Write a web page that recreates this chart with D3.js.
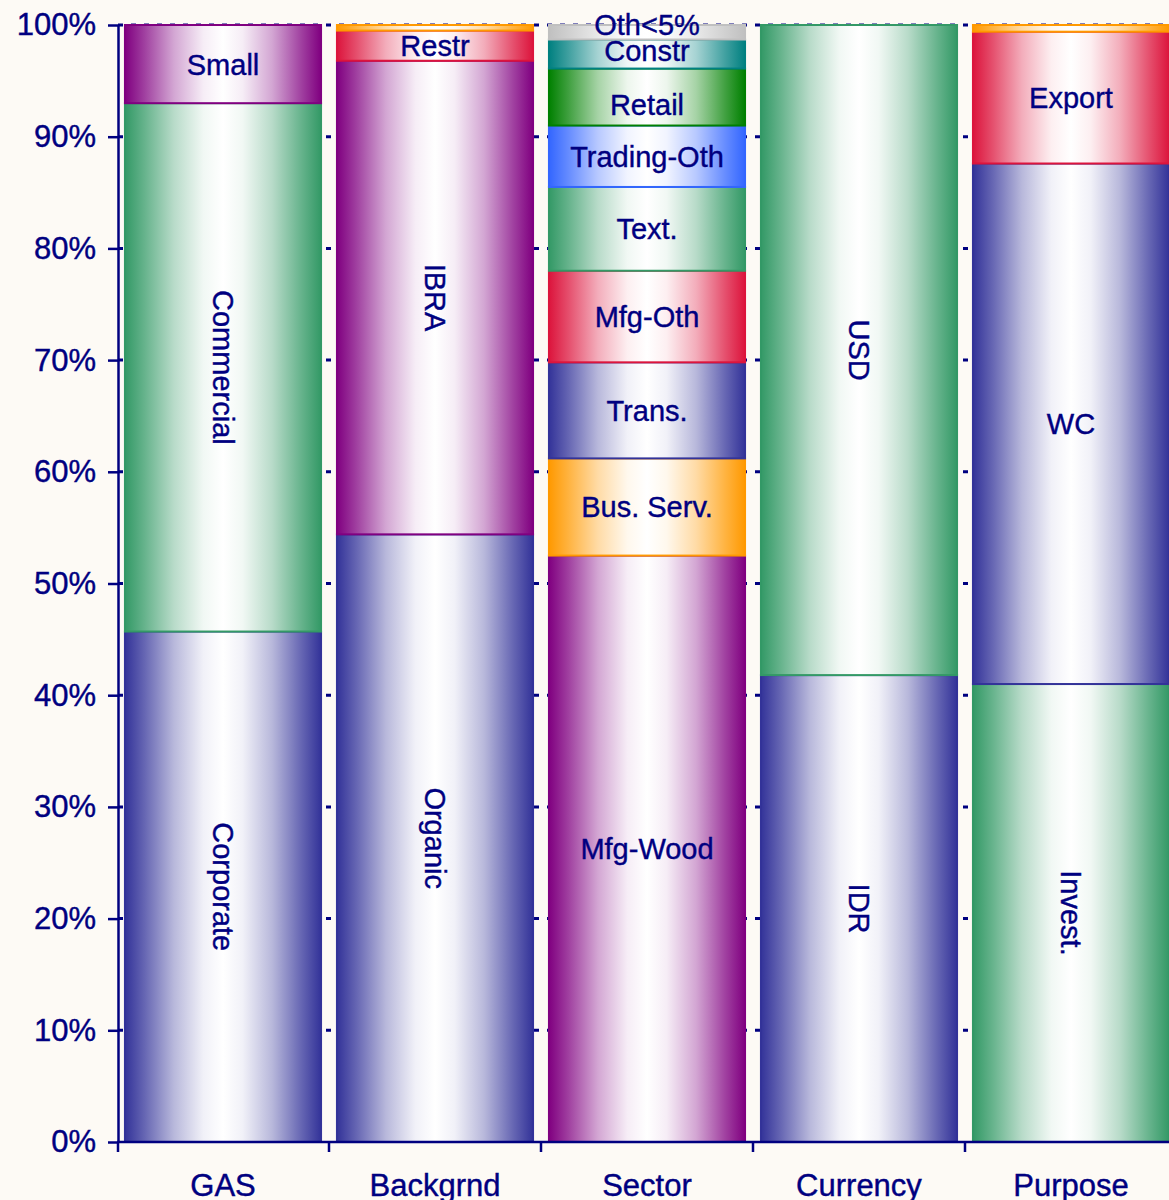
<!DOCTYPE html>
<html>
<head>
<meta charset="utf-8">
<script src="https://cdn.jsdelivr.net/npm/d3@7"></script>
<style>
  html, body { margin: 0; padding: 0; background: #fdfaf5; }
  svg { display: block; }
  text { font-family: "Liberation Sans", Arial, sans-serif; }
</style>
</head>
<body>
<script>
// Portfolio composition, each breakdown stacked to 100%
const categories = ["GAS", "Backgrnd", "Sector", "Currency", "Purpose"];

const gasLabels = ["Corporate", "Commercial", "Small"];
const gasValues = [45.7, 47.3, 7.0];

const backgrndLabels = ["Organic", "IBRA", "Restr", ""];
const backgrndValues = [54.4, 42.4, 2.7, 0.5];

const sectorLabels = ["Mfg-Wood", "Bus. Serv.", "Trans.", "Mfg-Oth", "Text.", "Trading-Oth", "Retail", "Constr", "Oth<5%"];
const sectorValues = [52.5, 8.7, 8.6, 8.2, 7.5, 5.5, 5.1, 2.6, 1.3];

const currencyLabels = ["IDR", "USD"];
const currencyValues = [41.8, 58.2];

const purposeLabels = ["Invest.", "WC", "Export", ""];
const purposeValues = [41.0, 46.6, 11.8, 0.6];

const yTickValues = [0, 10, 20, 30, 40, 50, 60, 70, 80, 90, 100];

const groups = [
  { cat: "GAS", labels: gasLabels, values: gasValues, colors: ["#333399", "#339966", "#800080"] },
  { cat: "Backgrnd", labels: backgrndLabels, values: backgrndValues, colors: ["#333399", "#800080", "#DC143C", "#FF9900"] },
  { cat: "Sector", labels: sectorLabels, values: sectorValues,
    colors: ["#800080", "#FF9900", "#333399", "#DC143C", "#339966", "#3366FF", "#008000", "#008080", "#C0C0C0"] },
  { cat: "Currency", labels: currencyLabels, values: currencyValues, colors: ["#333399", "#339966"] },
  { cat: "Purpose", labels: purposeLabels, values: purposeValues, colors: ["#339966", "#333399", "#DC143C", "#FF9900"] }
];

// labels that run vertically inside tall segments
const verticalLabels = new Set(["Corporate", "Commercial", "Organic", "IBRA", "IDR", "USD", "Invest."]);
// small vertical nudges for crowded labels
const labelNudge = { "Oth<5%": -8, "Constr": -3, "Retail": 8 };

const W = 1169, H = 1200;
const navy = "#000080";
const svg = d3.select("body").append("svg").attr("width", W).attr("height", H);

svg.append("rect").attr("width", W).attr("height", H).attr("fill", "#fdfaf5");

const y = d3.scaleLinear().domain([0, 100]).range([1142, 25]);
const x = d3.scaleBand().domain(categories).range([117, 1177])
  .paddingInner(0.075).paddingOuter(0.0375);

// horizontal shading: solid edge, white centre
const defs = svg.append("defs");
const allColors = Array.from(new Set(groups.flatMap(g => g.colors)));
const gradId = c => "g" + c.replace("#", "");
allColors.forEach(c => {
  const lg = defs.append("linearGradient").attr("id", gradId(c))
    .attr("x1", 0).attr("x2", 1).attr("y1", 0).attr("y2", 0);
  const mix = d3.interpolateRgb(c, "#ffffff");
  [[0, 0], [0.1, 0.25], [0.25, 0.65], [0.4, 0.93], [0.5, 1], [0.6, 0.93], [0.75, 0.65], [0.9, 0.25], [1, 0]]
    .forEach(([o, t]) => lg.append("stop").attr("offset", o).attr("stop-color", mix(t)));
});

// dotted gridlines behind the bars
svg.append("g").selectAll("line").data(yTickValues.filter(d => d > 0)).join("line")
  .attr("x1", 118).attr("x2", W)
  .attr("y1", d => y(d)).attr("y2", d => y(d))
  .attr("stroke", navy).attr("stroke-width", 3).attr("stroke-dasharray", "5,8");

// stacked segments
const segs = [];
groups.forEach(g => {
  let acc = 0;
  g.values.forEach((v, i) => {
    segs.push({ cat: g.cat, label: g.labels[i], color: g.colors[i], y0: acc, y1: acc + v });
    acc += v;
  });
});

svg.append("g").selectAll("rect").data(segs).join("rect")
  .attr("x", d => x(d.cat))
  .attr("width", x.bandwidth())
  .attr("y", d => y(d.y1))
  .attr("height", d => y(d.y0) - y(d.y1))
  .attr("fill", d => `url(#${gradId(d.color)})`)
  .attr("stroke", d => d.color)
  .attr("stroke-width", 2);

// segment labels
svg.append("g").selectAll("text").data(segs.filter(d => d.label)).join("text")
  .attr("transform", d => {
    const cx = x(d.cat) + x.bandwidth() / 2;
    const cy = (y(d.y0) + y(d.y1)) / 2 + (labelNudge[d.label] || 0);
    return verticalLabels.has(d.label) ? `translate(${cx},${cy}) rotate(90)` : `translate(${cx},${cy})`;
  })
  .attr("text-anchor", "middle")
  .attr("dy", "0.36em")
  .attr("font-size", 29)
  .attr("fill", navy)
  .attr("stroke", navy)
  .attr("stroke-width", 0.4)
  .text(d => d.label);

// y axis
const yAxis = svg.append("g").attr("transform", "translate(118,0)")
  .call(d3.axisLeft(y).tickValues(yTickValues).tickFormat(d => d + "%")
    .tickSize(10).tickSizeOuter(0).tickPadding(12));
yAxis.select(".domain").attr("stroke", navy).attr("stroke-width", 2.5);
yAxis.selectAll(".tick line").attr("stroke", navy).attr("stroke-width", 2.5);
yAxis.selectAll(".tick text").attr("fill", navy).attr("font-size", 31)
  .attr("stroke", navy).attr("stroke-width", 0.4)
  .attr("font-family", "'Liberation Sans', Arial, sans-serif");

// x axis: baseline, boundary ticks and category names
const xAxis = svg.append("g");
xAxis.append("line").attr("x1", 117).attr("x2", W).attr("y1", y(0)).attr("y2", y(0))
  .attr("stroke", navy).attr("stroke-width", 2.5);
const bounds = categories.map(c => x(c) - x.step() * x.paddingInner() / 2);
bounds[0] = 118;
xAxis.selectAll("line.tk").data(bounds).join("line").attr("class", "tk")
  .attr("x1", d => d).attr("x2", d => d)
  .attr("y1", y(0)).attr("y2", y(0) + 10)
  .attr("stroke", navy).attr("stroke-width", 2.5);
xAxis.selectAll("text").data(categories).join("text")
  .attr("x", d => x(d) + x.bandwidth() / 2)
  .attr("y", 1196)
  .attr("text-anchor", "middle")
  .attr("font-size", 31)
  .attr("fill", navy)
  .attr("stroke", navy)
  .attr("stroke-width", 0.4)
  .text(d => d);
</script>
</body>
</html>
